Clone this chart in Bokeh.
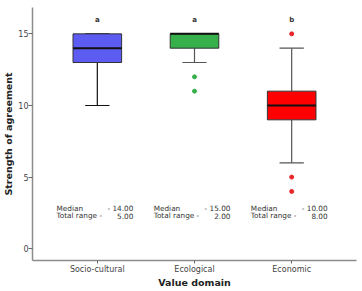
from bokeh.plotting import figure
from bokeh.models import ColumnDataSource, FactorRange
from bokeh.transform import dodge
from bokeh.core.properties import value
from bokeh.embed import file_html
from bokeh.resources import INLINE

# ---- data ----
categories = ["Socio-cultural", "Ecological", "Economic"]
q1 = [13, 14, 9]
medians = [14, 15, 10]
q3 = [15, 15, 11]
lower_whisker = [10, 13, 6]
upper_whisker = [15, 15, 14]
box_colors = ["#5c5cf2", "#35b04a", "#ff0000"]
whisker_colors = ["#111111", "#555555", "#555555"]
outlier_cats = ["Ecological", "Ecological", "Economic", "Economic", "Economic"]
outlier_vals = [12, 11, 15, 5, 4]
outlier_colors = ["#35b04a", "#35b04a", "#e8262a", "#e8262a", "#e8262a"]
group_letters = ["a", "a", "b"]
median_labels = ["- 14.00", "- 15.00", "- 10.00"]
range_labels = ["5.00", "2.00", "8.00"]
y_ticks = [0, 5, 10, 15]

FONT = "DejaVu Sans"

src = ColumnDataSource(dict(cat=categories, q1=q1, med=medians, q3=q3,
                            lo=lower_whisker, hi=upper_whisker,
                            color=box_colors, wcolor=whisker_colors,
                            letter=group_letters,
                            mlab=median_labels, rlab=range_labels,
                            letter_y=[16] * 3,
                            t1_y=[2.83] * 3, t2_y=[2.30] * 3,
                            t1_name=["Median"] * 3,
                            t2_name=["Total range -"] * 3))
osrc = ColumnDataSource(dict(cat=outlier_cats, val=outlier_vals, color=outlier_colors))

p = figure(width=362, height=291, output_backend="svg", toolbar_location=None,
           x_range=FactorRange(factors=categories, range_padding=0.167,
                               range_padding_units="absolute"),
           y_range=(-0.82, 16.84),
           min_border_left=32, min_border_right=6, min_border_top=7, min_border_bottom=31)
p.styles = {"outline": "1px solid #9a9a9a", "outline-offset": "-2px"}

p.background_fill_color = "white"
p.border_fill_color = "white"
p.outline_line_color = None
p.xgrid.visible = False
p.ygrid.visible = False

# whisker stems
p.segment(x0="cat", y0="q3", x1="cat", y1="hi", source=src, line_color="wcolor", line_width=1.2)
p.segment(x0="cat", y0="q1", x1="cat", y1="lo", source=src, line_color="wcolor", line_width=1.2)
# caps
for ycol in ["hi", "lo"]:
    p.segment(x0=dodge("cat", -0.125, range=p.x_range), y0=ycol,
              x1=dodge("cat", 0.125, range=p.x_range), y1=ycol,
              source=src, line_color="wcolor", line_width=1.2)
# boxes
p.vbar(x="cat", width=0.5, bottom="q1", top="q3", source=src,
       fill_color="color", line_color="#333333", line_width=1)
# medians
p.segment(x0=dodge("cat", -0.25, range=p.x_range), y0="med",
          x1=dodge("cat", 0.25, range=p.x_range), y1="med",
          source=src, line_color="#111111", line_width=2)
# outliers
p.scatter(x="cat", y="val", source=osrc, size=4, fill_color="color",
          line_color="color", marker="circle")

# letters
p.text(x="cat", y="letter_y", text="letter", source=src, text_align="center",
       text_baseline="middle", text_font=value(FONT), text_font_size="7px",
       text_font_style="bold", text_color="#333333")

# median / range text
for ycol, ncol, vcol in [("t1_y", "t1_name", "mlab"), ("t2_y", "t2_name", "rlab")]:
    p.text(x=dodge("cat", -0.42, range=p.x_range), y=ycol, text=ncol, source=src,
           text_align="left", text_baseline="middle", text_font=value(FONT),
           text_font_size="7.3px", text_color="#333333")
    p.text(x=dodge("cat", 0.37, range=p.x_range), y=ycol, text=vcol, source=src,
           text_align="right", text_baseline="middle", text_font=value(FONT),
           text_font_size="7.3px", text_color="#333333")

# axes
for ax in (p.xaxis[0], p.yaxis[0]):
    ax.axis_line_color = "#8c8c8c"
    ax.axis_line_width = 1.5
    ax.major_tick_line_color = "#666666"
    ax.major_tick_in = 0
    ax.minor_tick_line_color = None
    ax.major_label_text_font = FONT
    ax.major_label_text_font_size = "8px"
    ax.major_label_text_color = "#444444"
    ax.axis_label_text_font = FONT
    ax.axis_label_text_font_size = "9.5px"
    ax.axis_label_text_font_style = "bold"
    ax.axis_label_text_color = "#222222"

p.yaxis.ticker = y_ticks
p.yaxis.axis_label = "Strength of agreement"
p.yaxis.major_tick_out = 4
p.yaxis.major_label_standoff = 0
p.yaxis.axis_label_standoff = 1
p.xaxis.axis_label = "Value domain"
p.xaxis.major_tick_out = 3
p.xaxis.major_label_standoff = 1
p.xaxis.axis_label_standoff = 0

open("out.html", "w").write(file_html(p, INLINE))
